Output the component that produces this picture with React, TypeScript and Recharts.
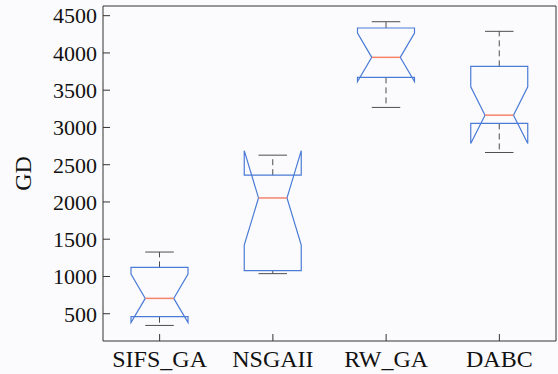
import { ComposedChart, Bar, XAxis, YAxis } from 'recharts';

const categories = ['SIFS_GA', 'NSGAII', 'RW_GA', 'DABC'];
const whiskerLow = [343, 1038, 3269, 2664];
const q1 = [460, 1078, 3672, 3054];
const median = [706, 2054, 3941, 3165];
const q3 = [1122, 2359, 4335, 3820];
const whiskerHigh = [1328, 2628, 4419, 4290];
const notchLow = [381, 1420, 3616, 2785];
const notchHigh = [1031, 2688, 4266, 3545];
const yTicks = [500, 1000, 1500, 2000, 2500, 3000, 3500, 4000, 4500];

const BOX = '#4a7bd6';
const MED = '#f4846c';
const WHISK = '#4d4d4d';
const AXIS = '#333';

const data = categories.map((name, i) => {
  const vals = [whiskerLow[i], q1[i], median[i], q3[i], whiskerHigh[i], notchLow[i], notchHigh[i]];
  return {
    name,
    wlo: whiskerLow[i],
    q1: q1[i],
    med: median[i],
    q3: q3[i],
    whi: whiskerHigh[i],
    nlo: notchLow[i],
    nhi: notchHigh[i],
    lo: Math.min(...vals),
    hi: Math.max(...vals),
  };
});

const range = (d: any) => [d.lo, d.hi];

// the bar spans [lo, hi]; everything else is placed on the same linear scale
function NotchBox(props: any) {
  const { x, y, width, height } = props;
  const d = props.payload || props;
  const top = Math.min(y, y + height);
  const bot = Math.max(y, y + height);
  const py = (v: number) => bot + ((v - d.lo) * (top - bot)) / (d.hi - d.lo);
  const cx = x + width / 2;
  const hw = width / 2;
  const nw = hw / 2;
  const L = cx - hw;
  const R = cx + hw;
  const pts = [
    [L, py(d.q1)],
    [L, py(d.nlo)],
    [cx - nw, py(d.med)],
    [L, py(d.nhi)],
    [L, py(d.q3)],
    [R, py(d.q3)],
    [R, py(d.nhi)],
    [cx + nw, py(d.med)],
    [R, py(d.nlo)],
    [R, py(d.q1)],
  ]
    .map((p) => p.join(','))
    .join(' ');
  return (
    <g>
      <line x1={cx} x2={cx} y1={py(d.q3)} y2={py(d.whi)} stroke={WHISK} strokeDasharray="6 4" />
      <line x1={cx} x2={cx} y1={py(d.q1)} y2={py(d.wlo)} stroke={WHISK} strokeDasharray="6 4" />
      <line x1={cx - nw} x2={cx + nw} y1={py(d.whi)} y2={py(d.whi)} stroke={WHISK} />
      <line x1={cx - nw} x2={cx + nw} y1={py(d.wlo)} y2={py(d.wlo)} stroke={WHISK} />
      <polygon points={pts} fill="none" stroke={BOX} strokeWidth={1.2} />
      <line x1={cx - nw} x2={cx + nw} y1={py(d.med)} y2={py(d.med)} stroke={MED} strokeWidth={1.5} />
    </g>
  );
}

export default function App() {
  return (
    <div style={{ position: 'absolute', left: 0, top: 0, background: '#fbfbfd' }}>
      <ComposedChart
        width={558}
        height={374}
        data={data}
        margin={{ top: 5, right: 1, bottom: 0, left: 0 }}
        style={{ fontFamily: '"Liberation Serif", "Times New Roman", serif' }}
      >
        <XAxis
          dataKey="name"
          height={33}
          tickSize={-7}
          tickMargin={16}
          stroke={AXIS}
          tick={{ fill: '#111', fontSize: 24 }}
          interval={0}
        />
        <XAxis
          xAxisId="top"
          dataKey="name"
          orientation="top"
          height={1}
          tickSize={-7}
          tick={false}
          stroke={AXIS}
        />
        <YAxis
          type="number"
          domain={[134, 4630]}
          ticks={yTicks}
          allowDataOverflow
          width={103}
          tickSize={-7}
          tickMargin={13}
          stroke={AXIS}
          tick={{ fill: '#111', fontSize: 22 }}
          label={{
            content: (p: any) => {
              const vb = p.viewBox || {};
              const lx = (vb.x || 0) + 23;
              const ly = (vb.y || 0) + (vb.height || 0) / 2;
              return (
                <text x={lx} y={ly} transform={`rotate(-90 ${lx} ${ly})`} textAnchor="middle" dominantBaseline="central" fontSize={24} fill="#111">
                  GD
                </text>
              );
            },
          }}
        />
        <YAxis
          yAxisId="right"
          orientation="right"
          type="number"
          domain={[134, 4630]}
          ticks={yTicks}
          allowDataOverflow
          width={1}
          tickSize={-7}
          tick={false}
          stroke={AXIS}
        />
        <Bar dataKey={range} barSize={57} shape={NotchBox} isAnimationActive={false} />
        <Bar xAxisId="top" yAxisId="right" dataKey={range} barSize={57} shape={() => null} isAnimationActive={false} />
      </ComposedChart>
    </div>
  );
}
